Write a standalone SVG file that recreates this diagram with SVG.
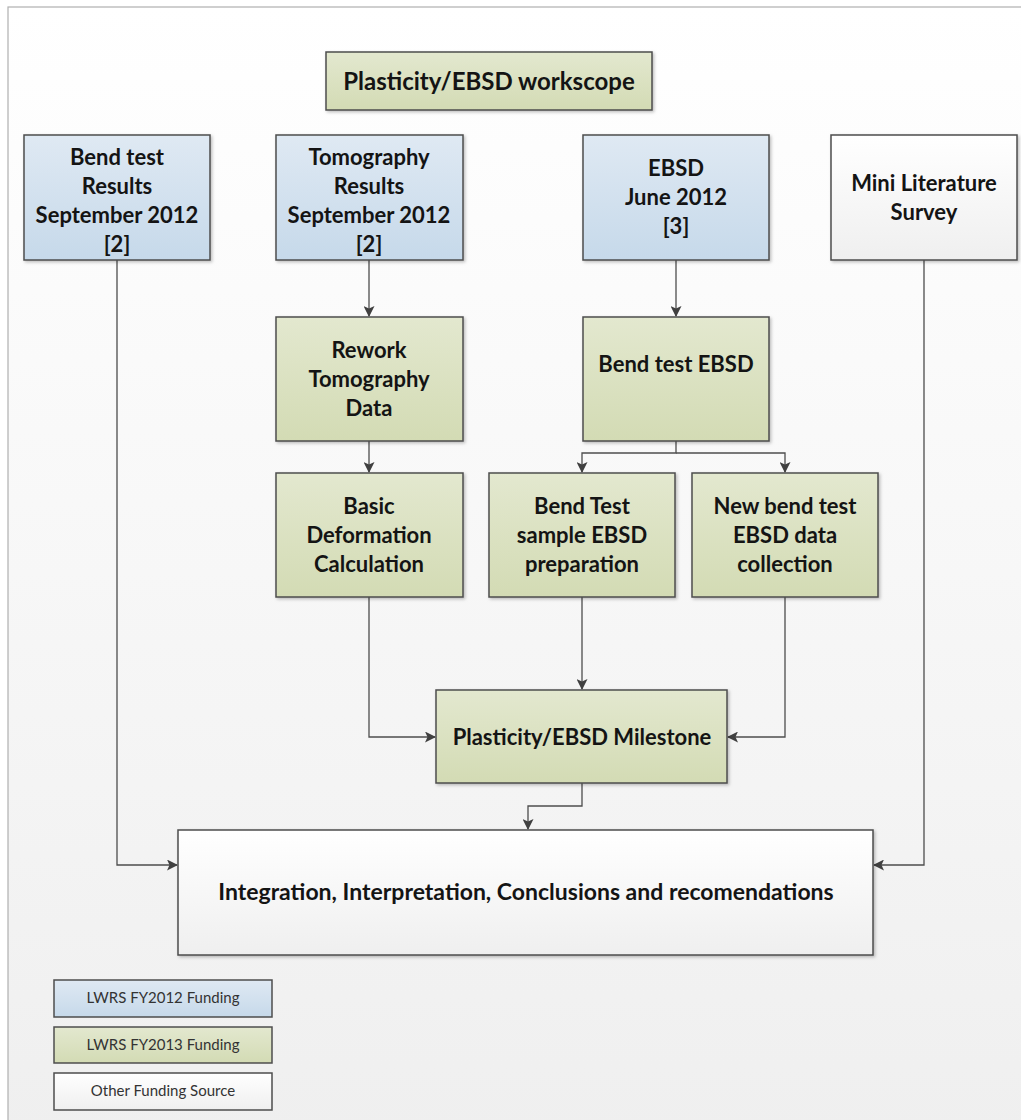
<svg xmlns="http://www.w3.org/2000/svg" width="1021" height="1120" viewBox="0 0 1021 1120">
<style>
.box{stroke:#4d4d4d;stroke-width:1.5}
.blue{fill:url(#gBlue)}
.green{fill:url(#gGreen)}
.white{fill:url(#gWhite)}
.t{font-family:Lato,"Open Sans","Liberation Sans",sans-serif;font-weight:bold;fill:#141414;text-anchor:middle}
.m{font-size:22px}
.lg{font-family:Lato,"Open Sans","Liberation Sans",sans-serif;font-size:15px;fill:#333;text-anchor:middle}
.c{fill:none;stroke:#4d4d4d;stroke-width:1.3}
</style>
<defs>
<linearGradient id="gBg" x1="0" y1="0" x2="0" y2="1"><stop offset="0" stop-color="#ffffff"/><stop offset="1" stop-color="#efefef"/></linearGradient>
<linearGradient id="gBlue" x1="0" y1="0" x2="0" y2="1"><stop offset="0" stop-color="#dfe9f3"/><stop offset="1" stop-color="#c6d9ea"/></linearGradient>
<linearGradient id="gGreen" x1="0" y1="0" x2="0" y2="1"><stop offset="0" stop-color="#e3e8cf"/><stop offset="1" stop-color="#d3dbb4"/></linearGradient>
<linearGradient id="gWhite" x1="0" y1="0" x2="0" y2="1"><stop offset="0" stop-color="#ffffff"/><stop offset="1" stop-color="#efefef"/></linearGradient>
<filter id="sh" x="-5%" y="-5%" width="115%" height="115%"><feDropShadow dx="1.5" dy="1.5" stdDeviation="1.5" flood-color="#000" flood-opacity="0.25"/></filter>
<marker id="ar" markerWidth="11" markerHeight="11" refX="10" refY="5.5" orient="auto" markerUnits="userSpaceOnUse"><path d="M0,0 L11,5.5 L0,11 L2.5,5.5 Z" fill="#404040"/></marker>
</defs>
<rect x="0" y="0" width="1021" height="1120" fill="#ffffff"/>
<rect x="8" y="7" width="1030" height="1130" fill="url(#gBg)" stroke="#b0b0b0" stroke-width="1.2"/>

<g id="connectors">
<path class="c" d="M117,260 V865 H177" marker-end="url(#ar)"/>
<path class="c" d="M369,260 V316" marker-end="url(#ar)"/>
<path class="c" d="M369,441 V472" marker-end="url(#ar)"/>
<path class="c" d="M676,260 V316" marker-end="url(#ar)"/>
<path class="c" d="M676,441 V453 H582 V472" marker-end="url(#ar)"/>
<path class="c" d="M676,453 H785 V472" marker-end="url(#ar)"/>
<path class="c" d="M369,597 V737 H435" marker-end="url(#ar)"/>
<path class="c" d="M582,597 V689" marker-end="url(#ar)"/>
<path class="c" d="M785,597 V737 H728" marker-end="url(#ar)"/>
<path class="c" d="M582,783 V806 H528 V829" marker-end="url(#ar)"/>
<path class="c" d="M924,260 V865 H874" marker-end="url(#ar)"/>
</g>

<g id="workscope"><rect class="box green" x="326" y="52" width="326" height="58" filter="url(#sh)"/>
<text class="t" x="489" y="90" font-size="24">Plasticity/EBSD workscope</text></g>

<g id="bendtest"><rect class="box blue" x="24" y="135" width="186" height="125" filter="url(#sh)"/>
<text class="t m" x="117" y="165">Bend test</text><text class="t m" x="117" y="194">Results</text><text class="t m" x="117" y="223">September 2012</text><text class="t m" x="117" y="252">[2]</text></g>

<g id="tomography"><rect class="box blue" x="276" y="135" width="187" height="125" filter="url(#sh)"/>
<text class="t m" x="369" y="165">Tomography</text><text class="t m" x="369" y="194">Results</text><text class="t m" x="369" y="223">September 2012</text><text class="t m" x="369" y="252">[2]</text></g>

<g id="ebsd"><rect class="box blue" x="583" y="135" width="186" height="125" filter="url(#sh)"/>
<text class="t m" x="676" y="176">EBSD</text><text class="t m" x="676" y="205">June 2012</text><text class="t m" x="676" y="234">[3]</text></g>

<g id="minilit"><rect class="box white" x="831" y="135" width="186" height="125" filter="url(#sh)"/>
<text class="t m" x="924" y="191">Mini Literature</text><text class="t m" x="924" y="220">Survey</text></g>

<g id="rework"><rect class="box green" x="276" y="317" width="187" height="124" filter="url(#sh)"/>
<text class="t m" x="369" y="358">Rework</text><text class="t m" x="369" y="387">Tomography</text><text class="t m" x="369" y="416">Data</text></g>

<g id="bendtestebsd"><rect class="box green" x="583" y="317" width="186" height="124" filter="url(#sh)"/>
<text class="t m" x="676" y="372">Bend test EBSD</text></g>

<g id="basicdef"><rect class="box green" x="276" y="473" width="187" height="124" filter="url(#sh)"/>
<text class="t m" x="369" y="514">Basic</text><text class="t m" x="369" y="543">Deformation</text><text class="t m" x="369" y="572">Calculation</text></g>

<g id="sampleprep"><rect class="box green" x="489" y="473" width="186" height="124" filter="url(#sh)"/>
<text class="t m" x="582" y="514">Bend Test</text><text class="t m" x="582" y="543">sample EBSD</text><text class="t m" x="582" y="572">preparation</text></g>

<g id="newbend"><rect class="box green" x="692" y="473" width="186" height="124" filter="url(#sh)"/>
<text class="t m" x="785" y="514">New bend test</text><text class="t m" x="785" y="543">EBSD data</text><text class="t m" x="785" y="572">collection</text></g>

<g id="milestone"><rect class="box green" x="436" y="690" width="291" height="93" filter="url(#sh)"/>
<text class="t" x="582" y="745" font-size="22">Plasticity/EBSD Milestone</text></g>

<g id="integration"><rect class="box white" x="178" y="830" width="695" height="125" filter="url(#sh)"/>
<text class="t" x="526" y="900" font-size="23">Integration, Interpretation, Conclusions and recomendations</text></g>

<g id="legend">
<rect class="box blue" x="54" y="980" width="218" height="37" stroke-width="1.2"/>
<text class="lg" x="163" y="1003">LWRS FY2012 Funding</text>
<rect class="box green" x="54" y="1027" width="218" height="36" stroke-width="1.2"/>
<text class="lg" x="163" y="1050">LWRS FY2013 Funding</text>
<rect class="box white" x="54" y="1073" width="218" height="37" stroke-width="1.2"/>
<text class="lg" x="163" y="1096">Other Funding Source</text>
</g>
</svg>
